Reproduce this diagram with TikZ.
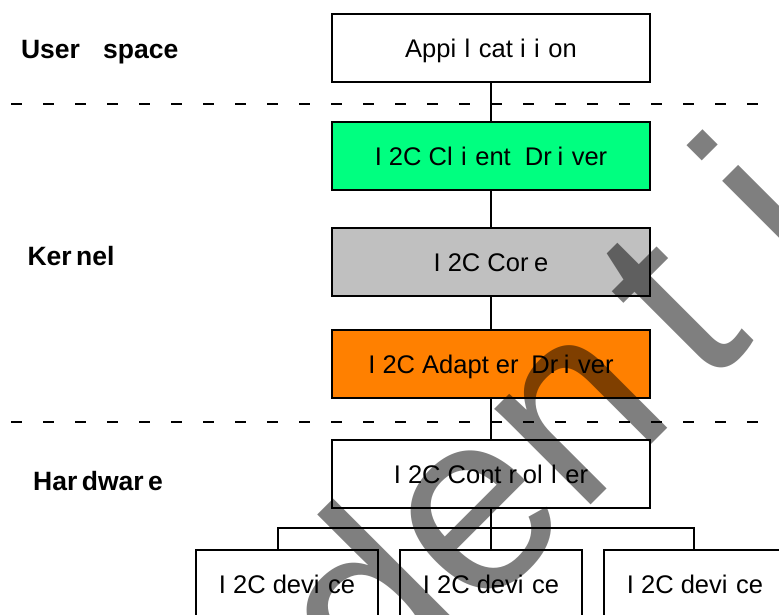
\documentclass[tikz,border=0pt]{standalone}
\usepackage{fontspec}
\setmainfont{Liberation Sans}
\newcommand\ki{\kern0.334em}
\newcommand\kt{\kern0.278em}
\newcommand\kr{\kern0.223em}
\definecolor{clientgreen}{HTML}{00FF80}
\definecolor{coregray}{HTML}{C0C0C0}
\definecolor{adaptorange}{HTML}{FF8000}
\begin{document}
\begin{tikzpicture}[x=1pt,y=-1pt,
  box/.style={draw=black,line width=1.6pt,minimum width=318pt,minimum height=68pt,
    inner sep=0pt,outer sep=0pt,font=\fontsize{25.5}{25.5}\selectfont,text height=18.3pt,text depth=0pt},
  devbox/.style={box,minimum width=182pt},
  lbl/.style={anchor=west,inner sep=0pt,font=\fontsize{26.5}{26.5}\selectfont\bfseries,
    text height=19pt,text depth=0pt},
  conn/.style={line width=1.6pt},
  sepline/.style={line width=1.8pt,dash pattern=on 11pt off 21pt},
  wm/.style={inner sep=0pt,outer sep=0pt,font=\fontsize{257}{257}\selectfont,
    text=black,text opacity=0.5}]
\useasboundingbox (0,0) rectangle (779,615);
\fill[white] (0,0) rectangle (779,615);
\clip (0,0) rectangle (779,615);

% boxes
\node[box] (app) at (491,48) {Appi\ki l\ki cat\kt i\ki i\ki on};
\node[box,fill=clientgreen] (client) at (491,156) {I\kt 2C Cl\ki i\ki ent\kt\ Dr\kr i\ki ver};
\node[box,fill=coregray] (core) at (491,262) {I\kt 2C Cor\kr e};
\node[box,fill=adaptorange] (adapt) at (491,364) {I\kt 2C Adapt\kt er\kr\ Dr\kr i\ki ver};
\node[box] (ctrl) at (491,474) {I\kt 2C Cont\kt r\kr ol\ki l\ki er};
\node[devbox] (dev1) at (287,584) {I\kt 2C devi\ki ce};
\node[devbox] (dev2) at (491,584) {I\kt 2C devi\ki ce};
\node[devbox] (dev3) at (695,584) {I\kt 2C devi\ki ce};

% separators
\coordinate (s1l) at (11,104);
\coordinate (s1r) at (762,104);
\coordinate (s2l) at (11,422);
\coordinate (s2r) at (762,422);
\draw[sepline] (s1l) -- (s1r);
\draw[sepline] (s2l) -- (s2r);

% connectors
\draw[conn] (app.south) -- (client.north);
\draw[conn] (client.south) -- (core.north);
\draw[conn] (core.south) -- (adapt.north);
\draw[conn] (adapt.south) -- (ctrl.north);
\draw[conn] (ctrl.south) -- (dev2.north);
\coordinate (bus) at (491,528);
\coordinate (d1top) at ([xshift=-9pt]dev1.north);
\coordinate (d3top) at ([xshift=-1pt]dev3.north);
\draw[conn] (d1top) -- (d1top |- bus) -- (d3top |- bus) -- (d3top);

% layer labels
\node[lbl] (luser) at (20.9,49.5) {User\kern0.6em\ space};
\node[lbl] (lkern) at (27.3,255.5) {Ker\kern0.17em nel};
\node[lbl] (lhw) at (33,480.5) {Har\kern0.17em dwar\kern0.17em e};

% watermark
\node[wm,rotate=45,anchor=base west] (mark) at (-158.4,1254.4)
  {Conf\kt i\ki den\kern0.14em t\kt i\ki al};
\end{tikzpicture}
\end{document}
